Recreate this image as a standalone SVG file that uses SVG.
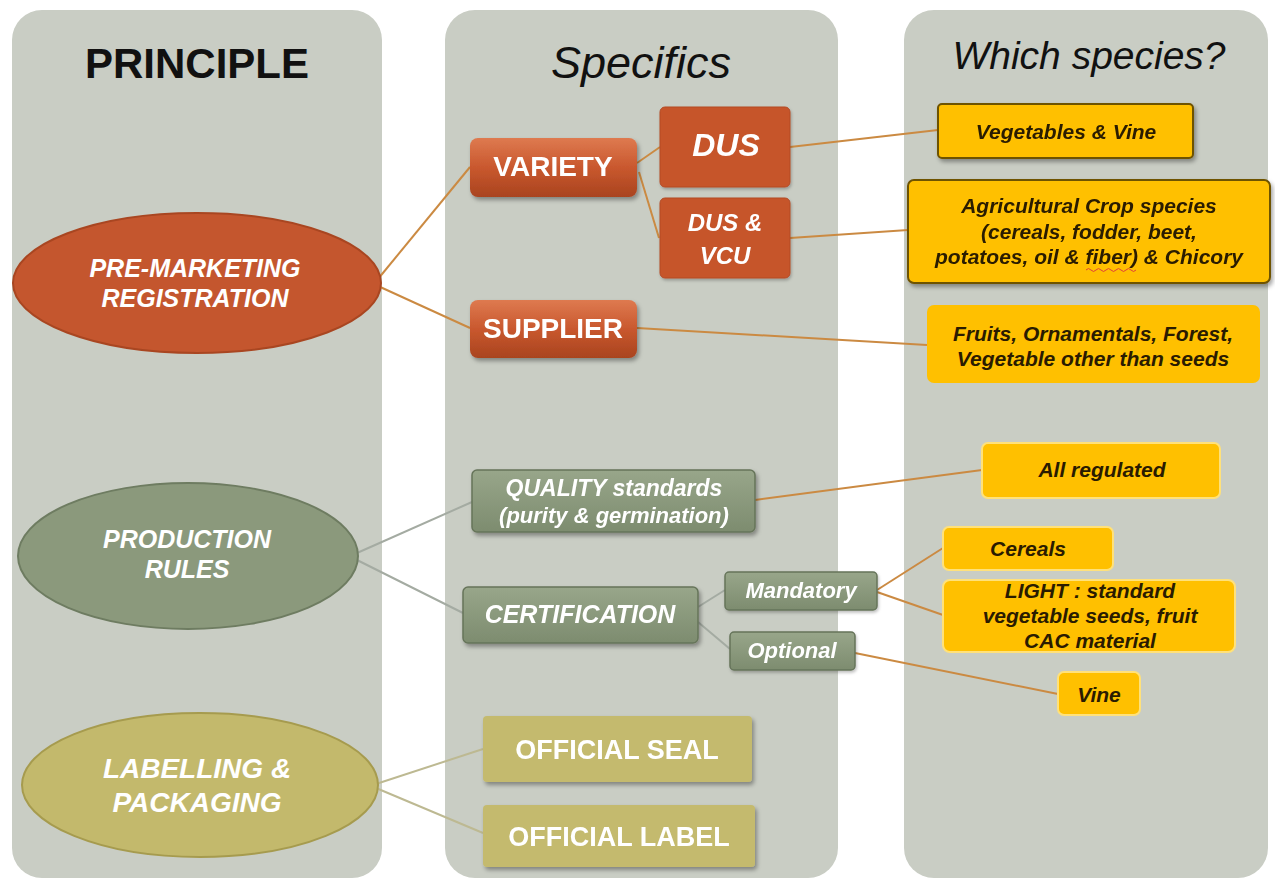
<svg xmlns="http://www.w3.org/2000/svg" width="1275" height="880" viewBox="0 0 1275 880">
  <defs>
    <linearGradient id="gOrange" x1="0" y1="0" x2="0" y2="1">
      <stop offset="0" stop-color="#DE7A50"/>
      <stop offset="0.5" stop-color="#C9582E"/>
      <stop offset="1" stop-color="#A9441F"/>
    </linearGradient>
    <linearGradient id="gSage" x1="0" y1="0" x2="0" y2="1">
      <stop offset="0" stop-color="#98A68A"/>
      <stop offset="1" stop-color="#7D8C6F"/>
    </linearGradient>
    <filter id="shadow" x="-10%" y="-20%" width="125%" height="150%">
      <feDropShadow dx="2" dy="3" stdDeviation="2" flood-color="#000" flood-opacity="0.35"/>
    </filter>
    <filter id="soft" x="-10%" y="-20%" width="125%" height="150%">
      <feDropShadow dx="1" dy="2" stdDeviation="1.5" flood-color="#000" flood-opacity="0.25"/>
    </filter>
  </defs>
  <style>
    .col { fill: #C9CDC4; }
    .head { font-family: "Liberation Sans", Arial, sans-serif; fill: #111; }
    .w { font-family: "Liberation Sans", Arial, sans-serif; fill: #FFFFFF; text-anchor: middle; }
    .y { font-family: "Liberation Sans", Arial, sans-serif; fill: #2A1B00; text-anchor: middle; font-weight: bold; font-style: italic; font-size: 21px; }
    .bi { font-weight: bold; font-style: italic; }
    .b { font-weight: bold; }
    .i { font-style: italic; }
    .cO { stroke: #CB8A42; stroke-width: 2; fill: none; }
    .cG { stroke: #A4ABA2; stroke-width: 2; fill: none; }
    .cK { stroke: #BDB992; stroke-width: 2; fill: none; }
    .boxO { fill: url(#gOrange); }
    .boxD { fill: #C6552C; stroke: #B44A24; stroke-width: 1; }
    .boxS { fill: url(#gSage); stroke: #66745A; stroke-width: 1.5; }
    .boxK { fill: #C4BA6E; }
    .boxY { fill: #FFC000; }
    .edgeY { stroke: #6E5200; stroke-width: 2; }
    .paleY { stroke: #FFE17A; stroke-width: 2; }
  </style>

  <rect width="1275" height="880" fill="#FFFFFF"/>

  <!-- column panels -->
  <g id="columns">
    <rect class="col" x="12" y="10" width="370" height="868" rx="30"/>
    <rect class="col" x="445" y="10" width="393" height="868" rx="30"/>
    <rect class="col" x="904" y="10" width="364" height="868" rx="30"/>
    <text class="head b" x="197" y="78" font-size="42" text-anchor="middle">PRINCIPLE</text>
    <text class="head i" x="641" y="78" font-size="45" text-anchor="middle">Specifics</text>
    <text class="head i" x="1089" y="69" font-size="39" text-anchor="middle">Which species?</text>
  </g>

  <!-- connectors -->
  <g id="connectors">
    <line class="cO" x1="378" y1="279" x2="470" y2="167"/>
    <line class="cO" x1="378" y1="286" x2="470" y2="328"/>
    <line class="cO" x1="637" y1="163" x2="660" y2="147"/>
    <line class="cO" x1="639" y1="172" x2="659" y2="238"/>
    <line class="cO" x1="790" y1="147" x2="938" y2="130"/>
    <line class="cO" x1="790" y1="238" x2="908" y2="230"/>
    <line class="cO" x1="637" y1="328" x2="927" y2="345"/>
    <line class="cG" x1="357" y1="553" x2="472" y2="502"/>
    <line class="cG" x1="357" y1="560" x2="463" y2="613"/>
    <line class="cG" x1="698" y1="607" x2="725" y2="590"/>
    <line class="cG" x1="698" y1="622" x2="730" y2="649"/>
    <line class="cO" x1="755" y1="500" x2="982" y2="470"/>
    <line class="cO" x1="877" y1="590" x2="943" y2="548"/>
    <line class="cO" x1="877" y1="592" x2="943" y2="615"/>
    <line class="cO" x1="855" y1="653" x2="1058" y2="694"/>
    <line class="cK" x1="376" y1="784" x2="483" y2="749"/>
    <line class="cK" x1="376" y1="788" x2="483" y2="833"/>
  </g>

  <!-- principle ellipses -->
  <g id="pre-marketing">
    <ellipse cx="197" cy="283" rx="184" ry="70" fill="#C4562E" stroke="#A94621" stroke-width="2"/>
    <text class="w bi" x="195" y="277" font-size="25">PRE-MARKETING</text>
    <text class="w bi" x="195" y="307" font-size="25">REGISTRATION</text>
  </g>
  <g id="production-rules">
    <ellipse cx="188" cy="556" rx="170" ry="73" fill="#8B997C" stroke="#6E7C61" stroke-width="2"/>
    <text class="w bi" x="187" y="548" font-size="25">PRODUCTION</text>
    <text class="w bi" x="187" y="578" font-size="25">RULES</text>
  </g>
  <g id="labelling">
    <ellipse cx="200" cy="785" rx="178" ry="72" fill="#C3B96C" stroke="#A69B4E" stroke-width="2"/>
    <text class="w bi" x="197" y="778" font-size="28">LABELLING &amp;</text>
    <text class="w bi" x="197" y="812" font-size="28">PACKAGING</text>
  </g>

  <!-- specifics -->
  <g id="variety" filter="url(#shadow)">
    <rect class="boxO" x="470" y="138" width="167" height="59" rx="8"/>
    <text class="w b" x="553" y="176" font-size="28">VARIETY</text>
  </g>
  <g id="dus" filter="url(#soft)">
    <rect class="boxD" x="660" y="107" width="130" height="80" rx="5"/>
    <text class="w bi" x="726" y="156" font-size="32">DUS</text>
  </g>
  <g id="dus-vcu" filter="url(#soft)">
    <rect class="boxD" x="660" y="198" width="130" height="80" rx="5"/>
    <text class="w bi" x="725" y="231" font-size="24">DUS &amp;</text>
    <text class="w bi" x="725" y="264" font-size="24">VCU</text>
  </g>
  <g id="supplier" filter="url(#shadow)">
    <rect class="boxO" x="470" y="300" width="167" height="58" rx="8"/>
    <text class="w b" x="553" y="338" font-size="28">SUPPLIER</text>
  </g>
  <g id="quality" filter="url(#shadow)">
    <rect class="boxS" x="472" y="470" width="283" height="62" rx="5"/>
    <text class="w bi" x="614" y="496" font-size="23">QUALITY standards</text>
    <text class="w bi" x="614" y="523" font-size="22">(purity &amp; germination)</text>
  </g>
  <g id="certification" filter="url(#shadow)">
    <rect class="boxS" x="463" y="587" width="235" height="56" rx="5"/>
    <text class="w bi" x="580" y="623" font-size="25">CERTIFICATION</text>
  </g>
  <g id="mandatory" filter="url(#soft)">
    <rect class="boxS" x="725" y="572" width="152" height="38" rx="4"/>
    <text class="w bi" x="801" y="598" font-size="22">Mandatory</text>
  </g>
  <g id="optional" filter="url(#soft)">
    <rect class="boxS" x="730" y="632" width="125" height="38" rx="4"/>
    <text class="w bi" x="792" y="658" font-size="22">Optional</text>
  </g>
  <g id="official-seal" filter="url(#shadow)">
    <rect class="boxK" x="483" y="716" width="269" height="66" rx="4"/>
    <text class="w b" x="617" y="759" font-size="27">OFFICIAL SEAL</text>
  </g>
  <g id="official-label" filter="url(#shadow)">
    <rect class="boxK" x="483" y="805" width="272" height="62" rx="4"/>
    <text class="w b" x="619" y="846" font-size="27">OFFICIAL LABEL</text>
  </g>

  <!-- species -->
  <g id="vegetables-vine" filter="url(#shadow)">
    <rect class="boxY edgeY" x="938" y="104" width="255" height="54" rx="4"/>
    <text class="y" x="1066" y="139">Vegetables &amp; Vine</text>
  </g>
  <g id="agricultural" filter="url(#shadow)">
    <rect class="boxY edgeY" x="908" y="180" width="362" height="103" rx="6"/>
    <text class="y" x="1089" y="213">Agricultural Crop species</text>
    <text class="y" x="1089" y="239">(cereals, fodder, beet,</text>
    <text class="y" x="1089" y="264">potatoes, oil &amp; fiber) &amp; Chicory</text>
    <path d="M1086 270 q2.5 -3 5 0 t5 0 t5 0 t5 0 t5 0 t5 0 t5 0 t5 0 t5 0 t5 0" stroke="#E0403A" stroke-width="1" fill="none"/>
  </g>
  <g id="fruits">
    <rect class="boxY" x="927" y="305" width="333" height="78" rx="7"/>
    <text class="y" x="1093" y="341">Fruits, Ornamentals, Forest,</text>
    <text class="y" x="1093" y="366">Vegetable other than seeds</text>
  </g>
  <g id="all-regulated">
    <rect class="boxY paleY" x="982" y="443" width="238" height="55" rx="6"/>
    <text class="y" x="1102" y="477">All regulated</text>
  </g>
  <g id="cereals">
    <rect class="boxY paleY" x="943" y="527" width="170" height="43" rx="6"/>
    <text class="y" x="1028" y="556">Cereals</text>
  </g>
  <g id="light">
    <rect class="boxY paleY" x="943" y="580" width="292" height="72" rx="7"/>
    <text class="y" x="1090" y="598">LIGHT : standard</text>
    <text class="y" x="1090" y="623">vegetable seeds, fruit</text>
    <text class="y" x="1090" y="648">CAC material</text>
  </g>
  <g id="vine">
    <rect class="boxY paleY" x="1058" y="672" width="82" height="43" rx="6"/>
    <text class="y" x="1099" y="702">Vine</text>
  </g>
</svg>
